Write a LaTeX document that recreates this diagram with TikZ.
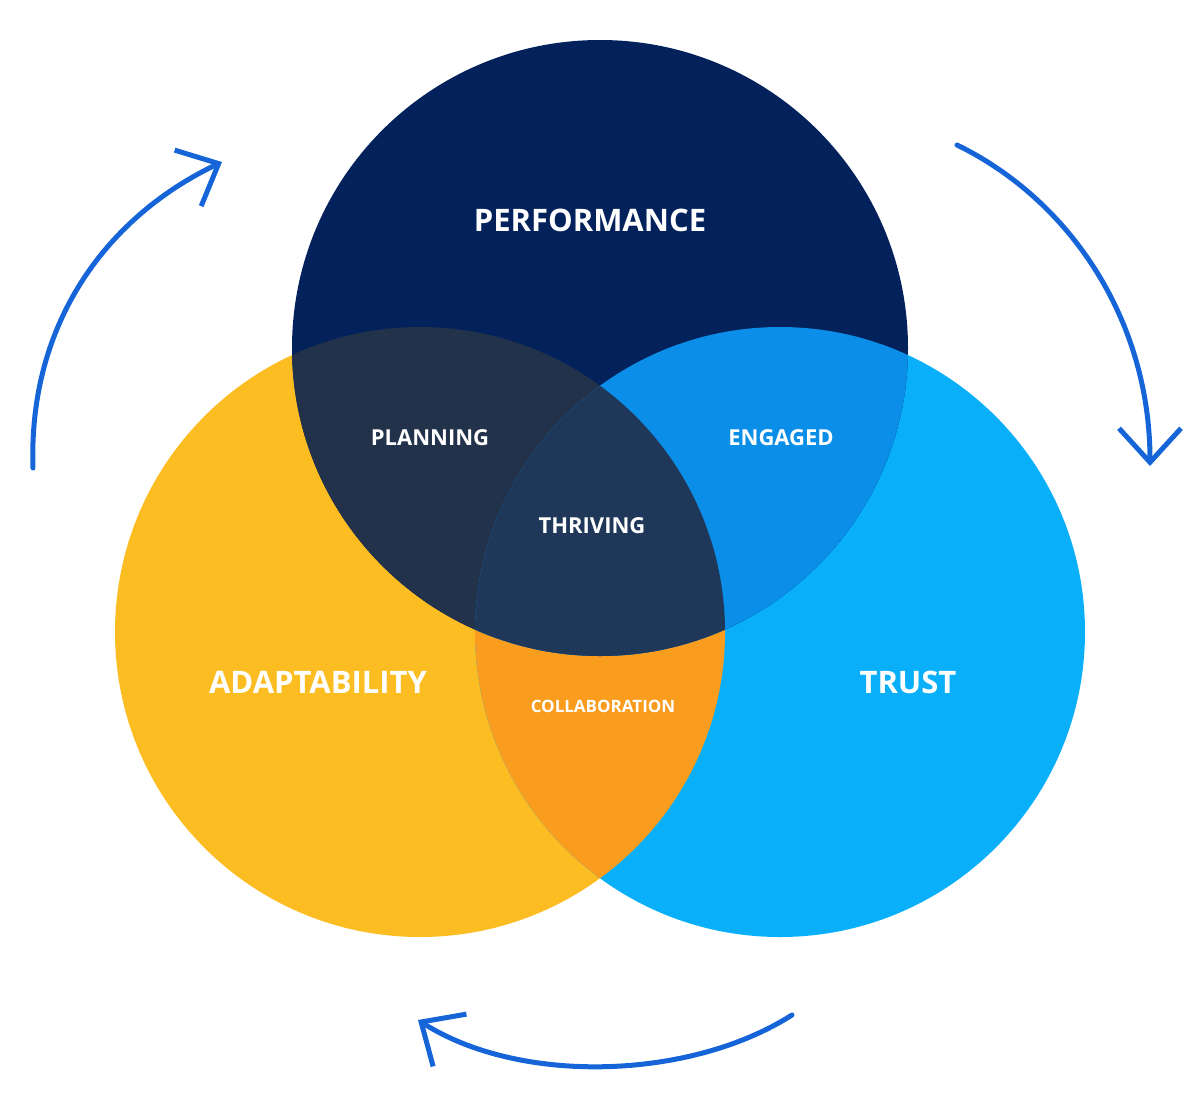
\documentclass[tikz,border=0pt]{standalone}
\usepackage{fontspec}
\setmainfont{Open Sans}
\usetikzlibrary{arrows.meta}
\definecolor{navy}{HTML}{03215B}
\definecolor{yel}{HTML}{FCBD22}
\definecolor{lblue}{HTML}{09B0F9}
\definecolor{plan}{HTML}{21324A}
\definecolor{eng}{HTML}{0A8EE8}
\definecolor{thr}{HTML}{1F3859}
\definecolor{col}{HTML}{FA9D1E}
\definecolor{arr}{HTML}{1565D8}
\tikzset{
 lbl/.style={text=white,font=\bfseries},
 cyc/.style={draw=arr,line width=5pt,line cap=round,-{Straight Barb[length=34pt,width=62pt,line width=5pt]}}
}
\begin{document}
\begin{tikzpicture}[x=1pt,y=-1pt]
\useasboundingbox (0,0) rectangle (1200,1098);
\def\P{(600,348) circle (308)}
\def\A{(420,632) circle (305)}
\def\T{(780,632) circle (305)}
\fill[yel] \A;
\fill[lblue] \T;
\fill[navy] \P;
\begin{scope}\clip \A; \fill[col] \T; \fill[plan] \P; \end{scope}
\begin{scope}\clip \T; \fill[eng] \P; \end{scope}
\begin{scope}\clip \A; \clip \T; \fill[thr] \P; \end{scope}
\node[lbl,font=\bfseries\fontsize{31}{36}\selectfont] (perf) at (590,220) {PERFORMANCE};
\node[lbl,font=\bfseries\fontsize{22}{26}\selectfont] (plan) at (430,438) {PLANNING};
\node[lbl,font=\bfseries\fontsize{22}{26}\selectfont] (eng) at (781,438) {ENGAGED};
\node[lbl,font=\bfseries\fontsize{22}{26}\selectfont] (thr) at (592,526) {THRIVING};
\node[lbl,font=\bfseries\fontsize{31}{36}\selectfont] (ada) at (318,682) {ADAPTABILITY};
\node[lbl,font=\bfseries\fontsize{31}{36}\selectfont] (tru) at (908,682) {TRUST};
\node[lbl,font=\bfseries\fontsize{17}{20}\selectfont] (col) at (603,706) {COLLABORATION};
\coordinate (a1) at (33,468); \coordinate (a2) at (222,162);
\coordinate (b1) at (957,145); \coordinate (b2) at (1150,466);
\coordinate (c1) at (792,1015); \coordinate (c2) at (418,1020);
\draw[cyc] (a1) .. controls (28,320) and (110,215) .. (a2);
\draw[cyc] (b1) .. controls (1070,200) and (1150,320) .. (b2);
\draw[cyc] (c1) .. controls (690,1080) and (520,1085) .. (c2);
\end{tikzpicture}
\end{document}
